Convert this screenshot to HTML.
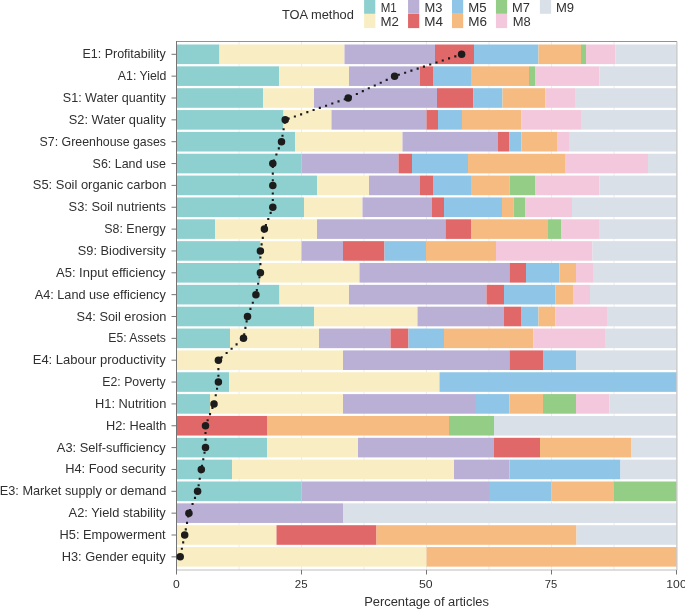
<!DOCTYPE html><html><head><meta charset="utf-8"><title>TOA methods chart</title><style>html,body{margin:0;padding:0;background:#fff;overflow:hidden;}svg{display:block;}text{font-family:"Liberation Sans",sans-serif;fill:#303030;}</style></head><body>
<svg width="685" height="609" viewBox="0 0 685 609">
<line x1="239.00" y1="42" x2="239.00" y2="570" stroke="#ececec" stroke-width="1"/>
<line x1="301.50" y1="42" x2="301.50" y2="570" stroke="#ececec" stroke-width="1"/>
<line x1="364.00" y1="42" x2="364.00" y2="570" stroke="#ececec" stroke-width="1"/>
<line x1="426.50" y1="42" x2="426.50" y2="570" stroke="#ececec" stroke-width="1"/>
<line x1="489.00" y1="42" x2="489.00" y2="570" stroke="#ececec" stroke-width="1"/>
<line x1="551.50" y1="42" x2="551.50" y2="570" stroke="#ececec" stroke-width="1"/>
<line x1="614.00" y1="42" x2="614.00" y2="570" stroke="#ececec" stroke-width="1"/>
<rect x="176.50" y="44.50" width="43.00" height="19.60" fill="#8ed0cf"/>
<rect x="219.50" y="44.50" width="125.00" height="19.60" fill="#f9eec3"/>
<rect x="344.50" y="44.50" width="90.50" height="19.60" fill="#bab0d6"/>
<rect x="435.00" y="44.50" width="39.00" height="19.60" fill="#e06868"/>
<rect x="474.00" y="44.50" width="64.50" height="19.60" fill="#8fc5e6"/>
<rect x="538.50" y="44.50" width="42.50" height="19.60" fill="#f6bb80"/>
<rect x="581.00" y="44.50" width="5.00" height="19.60" fill="#94cd86"/>
<rect x="586.00" y="44.50" width="29.50" height="19.60" fill="#f4c8dc"/>
<rect x="615.50" y="44.50" width="61.00" height="19.60" fill="#d9e0e8"/>
<rect x="176.50" y="66.35" width="102.50" height="19.60" fill="#8ed0cf"/>
<rect x="279.00" y="66.35" width="70.00" height="19.60" fill="#f9eec3"/>
<rect x="349.00" y="66.35" width="71.00" height="19.60" fill="#bab0d6"/>
<rect x="420.00" y="66.35" width="13.00" height="19.60" fill="#e06868"/>
<rect x="433.00" y="66.35" width="38.00" height="19.60" fill="#8fc5e6"/>
<rect x="471.00" y="66.35" width="58.00" height="19.60" fill="#f6bb80"/>
<rect x="529.00" y="66.35" width="6.00" height="19.60" fill="#94cd86"/>
<rect x="535.00" y="66.35" width="64.50" height="19.60" fill="#f4c8dc"/>
<rect x="599.50" y="66.35" width="77.00" height="19.60" fill="#d9e0e8"/>
<rect x="176.50" y="88.20" width="86.50" height="19.60" fill="#8ed0cf"/>
<rect x="263.00" y="88.20" width="51.00" height="19.60" fill="#f9eec3"/>
<rect x="314.00" y="88.20" width="123.00" height="19.60" fill="#bab0d6"/>
<rect x="437.00" y="88.20" width="36.50" height="19.60" fill="#e06868"/>
<rect x="473.50" y="88.20" width="29.00" height="19.60" fill="#8fc5e6"/>
<rect x="502.50" y="88.20" width="43.00" height="19.60" fill="#f6bb80"/>
<rect x="545.50" y="88.20" width="29.50" height="19.60" fill="#f4c8dc"/>
<rect x="575.00" y="88.20" width="101.50" height="19.60" fill="#d9e0e8"/>
<rect x="176.50" y="110.05" width="107.00" height="19.60" fill="#8ed0cf"/>
<rect x="283.50" y="110.05" width="48.00" height="19.60" fill="#f9eec3"/>
<rect x="331.50" y="110.05" width="95.00" height="19.60" fill="#bab0d6"/>
<rect x="426.50" y="110.05" width="11.50" height="19.60" fill="#e06868"/>
<rect x="438.00" y="110.05" width="24.00" height="19.60" fill="#8fc5e6"/>
<rect x="462.00" y="110.05" width="59.50" height="19.60" fill="#f6bb80"/>
<rect x="521.50" y="110.05" width="59.50" height="19.60" fill="#f4c8dc"/>
<rect x="581.00" y="110.05" width="95.50" height="19.60" fill="#d9e0e8"/>
<rect x="176.50" y="131.90" width="118.50" height="19.60" fill="#8ed0cf"/>
<rect x="295.00" y="131.90" width="107.50" height="19.60" fill="#f9eec3"/>
<rect x="402.50" y="131.90" width="95.50" height="19.60" fill="#bab0d6"/>
<rect x="498.00" y="131.90" width="11.50" height="19.60" fill="#e06868"/>
<rect x="509.50" y="131.90" width="12.00" height="19.60" fill="#8fc5e6"/>
<rect x="521.50" y="131.90" width="35.50" height="19.60" fill="#f6bb80"/>
<rect x="557.00" y="131.90" width="12.00" height="19.60" fill="#f4c8dc"/>
<rect x="569.00" y="131.90" width="107.50" height="19.60" fill="#d9e0e8"/>
<rect x="176.50" y="153.75" width="125.00" height="19.60" fill="#8ed0cf"/>
<rect x="301.50" y="153.75" width="97.00" height="19.60" fill="#bab0d6"/>
<rect x="398.50" y="153.75" width="13.50" height="19.60" fill="#e06868"/>
<rect x="412.00" y="153.75" width="56.00" height="19.60" fill="#8fc5e6"/>
<rect x="468.00" y="153.75" width="97.00" height="19.60" fill="#f6bb80"/>
<rect x="565.00" y="153.75" width="83.00" height="19.60" fill="#f4c8dc"/>
<rect x="648.00" y="153.75" width="28.50" height="19.60" fill="#d9e0e8"/>
<rect x="176.50" y="175.60" width="140.50" height="19.60" fill="#8ed0cf"/>
<rect x="317.00" y="175.60" width="52.00" height="19.60" fill="#f9eec3"/>
<rect x="369.00" y="175.60" width="51.00" height="19.60" fill="#bab0d6"/>
<rect x="420.00" y="175.60" width="13.00" height="19.60" fill="#e06868"/>
<rect x="433.00" y="175.60" width="38.00" height="19.60" fill="#8fc5e6"/>
<rect x="471.00" y="175.60" width="38.50" height="19.60" fill="#f6bb80"/>
<rect x="509.50" y="175.60" width="25.50" height="19.60" fill="#94cd86"/>
<rect x="535.00" y="175.60" width="64.50" height="19.60" fill="#f4c8dc"/>
<rect x="599.50" y="175.60" width="77.00" height="19.60" fill="#d9e0e8"/>
<rect x="176.50" y="197.45" width="127.50" height="19.60" fill="#8ed0cf"/>
<rect x="304.00" y="197.45" width="58.50" height="19.60" fill="#f9eec3"/>
<rect x="362.50" y="197.45" width="69.50" height="19.60" fill="#bab0d6"/>
<rect x="432.00" y="197.45" width="12.00" height="19.60" fill="#e06868"/>
<rect x="444.00" y="197.45" width="58.00" height="19.60" fill="#8fc5e6"/>
<rect x="502.00" y="197.45" width="11.50" height="19.60" fill="#f6bb80"/>
<rect x="513.50" y="197.45" width="11.50" height="19.60" fill="#94cd86"/>
<rect x="525.00" y="197.45" width="47.00" height="19.60" fill="#f4c8dc"/>
<rect x="572.00" y="197.45" width="104.50" height="19.60" fill="#d9e0e8"/>
<rect x="176.50" y="219.30" width="38.50" height="19.60" fill="#8ed0cf"/>
<rect x="215.00" y="219.30" width="102.00" height="19.60" fill="#f9eec3"/>
<rect x="317.00" y="219.30" width="128.50" height="19.60" fill="#bab0d6"/>
<rect x="445.50" y="219.30" width="25.50" height="19.60" fill="#e06868"/>
<rect x="471.00" y="219.30" width="77.00" height="19.60" fill="#f6bb80"/>
<rect x="548.00" y="219.30" width="13.00" height="19.60" fill="#94cd86"/>
<rect x="561.00" y="219.30" width="38.00" height="19.60" fill="#f4c8dc"/>
<rect x="599.00" y="219.30" width="77.50" height="19.60" fill="#d9e0e8"/>
<rect x="176.50" y="241.15" width="84.00" height="19.60" fill="#8ed0cf"/>
<rect x="260.50" y="241.15" width="41.00" height="19.60" fill="#f9eec3"/>
<rect x="301.50" y="241.15" width="41.50" height="19.60" fill="#bab0d6"/>
<rect x="343.00" y="241.15" width="41.50" height="19.60" fill="#e06868"/>
<rect x="384.50" y="241.15" width="41.50" height="19.60" fill="#8fc5e6"/>
<rect x="426.00" y="241.15" width="70.00" height="19.60" fill="#f6bb80"/>
<rect x="496.00" y="241.15" width="96.50" height="19.60" fill="#f4c8dc"/>
<rect x="592.50" y="241.15" width="84.00" height="19.60" fill="#d9e0e8"/>
<rect x="176.50" y="263.00" width="83.50" height="19.60" fill="#8ed0cf"/>
<rect x="260.00" y="263.00" width="99.50" height="19.60" fill="#f9eec3"/>
<rect x="359.50" y="263.00" width="150.00" height="19.60" fill="#bab0d6"/>
<rect x="509.50" y="263.00" width="16.50" height="19.60" fill="#e06868"/>
<rect x="526.00" y="263.00" width="33.50" height="19.60" fill="#8fc5e6"/>
<rect x="559.50" y="263.00" width="16.50" height="19.60" fill="#f6bb80"/>
<rect x="576.00" y="263.00" width="17.00" height="19.60" fill="#f4c8dc"/>
<rect x="593.00" y="263.00" width="83.50" height="19.60" fill="#d9e0e8"/>
<rect x="176.50" y="284.85" width="103.00" height="19.60" fill="#8ed0cf"/>
<rect x="279.50" y="284.85" width="69.50" height="19.60" fill="#f9eec3"/>
<rect x="349.00" y="284.85" width="137.50" height="19.60" fill="#bab0d6"/>
<rect x="486.50" y="284.85" width="17.50" height="19.60" fill="#e06868"/>
<rect x="504.00" y="284.85" width="51.50" height="19.60" fill="#8fc5e6"/>
<rect x="555.50" y="284.85" width="17.50" height="19.60" fill="#f6bb80"/>
<rect x="573.00" y="284.85" width="17.00" height="19.60" fill="#f4c8dc"/>
<rect x="590.00" y="284.85" width="86.50" height="19.60" fill="#d9e0e8"/>
<rect x="176.50" y="306.70" width="137.50" height="19.60" fill="#8ed0cf"/>
<rect x="314.00" y="306.70" width="103.50" height="19.60" fill="#f9eec3"/>
<rect x="417.50" y="306.70" width="86.50" height="19.60" fill="#bab0d6"/>
<rect x="504.00" y="306.70" width="17.00" height="19.60" fill="#e06868"/>
<rect x="521.00" y="306.70" width="17.50" height="19.60" fill="#8fc5e6"/>
<rect x="538.50" y="306.70" width="17.00" height="19.60" fill="#f6bb80"/>
<rect x="555.50" y="306.70" width="51.50" height="19.60" fill="#f4c8dc"/>
<rect x="607.00" y="306.70" width="69.50" height="19.60" fill="#d9e0e8"/>
<rect x="176.50" y="328.55" width="53.50" height="19.60" fill="#8ed0cf"/>
<rect x="230.00" y="328.55" width="89.00" height="19.60" fill="#f9eec3"/>
<rect x="319.00" y="328.55" width="71.50" height="19.60" fill="#bab0d6"/>
<rect x="390.50" y="328.55" width="18.00" height="19.60" fill="#e06868"/>
<rect x="408.50" y="328.55" width="35.50" height="19.60" fill="#8fc5e6"/>
<rect x="444.00" y="328.55" width="89.50" height="19.60" fill="#f6bb80"/>
<rect x="533.50" y="328.55" width="71.50" height="19.60" fill="#f4c8dc"/>
<rect x="605.00" y="328.55" width="71.50" height="19.60" fill="#d9e0e8"/>
<rect x="176.50" y="350.40" width="166.50" height="19.60" fill="#f9eec3"/>
<rect x="343.00" y="350.40" width="166.50" height="19.60" fill="#bab0d6"/>
<rect x="509.50" y="350.40" width="33.50" height="19.60" fill="#e06868"/>
<rect x="543.00" y="350.40" width="33.00" height="19.60" fill="#8fc5e6"/>
<rect x="576.00" y="350.40" width="100.50" height="19.60" fill="#d9e0e8"/>
<rect x="176.50" y="372.25" width="52.50" height="19.60" fill="#8ed0cf"/>
<rect x="229.00" y="372.25" width="210.50" height="19.60" fill="#f9eec3"/>
<rect x="439.50" y="372.25" width="237.00" height="19.60" fill="#8fc5e6"/>
<rect x="176.50" y="394.10" width="33.50" height="19.60" fill="#8ed0cf"/>
<rect x="210.00" y="394.10" width="133.00" height="19.60" fill="#f9eec3"/>
<rect x="343.00" y="394.10" width="133.00" height="19.60" fill="#bab0d6"/>
<rect x="476.00" y="394.10" width="33.50" height="19.60" fill="#8fc5e6"/>
<rect x="509.50" y="394.10" width="33.50" height="19.60" fill="#f6bb80"/>
<rect x="543.00" y="394.10" width="33.00" height="19.60" fill="#94cd86"/>
<rect x="576.00" y="394.10" width="33.50" height="19.60" fill="#f4c8dc"/>
<rect x="609.50" y="394.10" width="67.00" height="19.60" fill="#d9e0e8"/>
<rect x="176.50" y="415.95" width="90.50" height="19.60" fill="#e06868"/>
<rect x="267.00" y="415.95" width="182.00" height="19.60" fill="#f6bb80"/>
<rect x="449.00" y="415.95" width="45.00" height="19.60" fill="#94cd86"/>
<rect x="494.00" y="415.95" width="182.50" height="19.60" fill="#d9e0e8"/>
<rect x="176.50" y="437.80" width="90.50" height="19.60" fill="#8ed0cf"/>
<rect x="267.00" y="437.80" width="91.00" height="19.60" fill="#f9eec3"/>
<rect x="358.00" y="437.80" width="136.00" height="19.60" fill="#bab0d6"/>
<rect x="494.00" y="437.80" width="46.00" height="19.60" fill="#e06868"/>
<rect x="540.00" y="437.80" width="91.00" height="19.60" fill="#f6bb80"/>
<rect x="631.00" y="437.80" width="45.50" height="19.60" fill="#d9e0e8"/>
<rect x="176.50" y="459.65" width="55.50" height="19.60" fill="#8ed0cf"/>
<rect x="232.00" y="459.65" width="222.00" height="19.60" fill="#f9eec3"/>
<rect x="454.00" y="459.65" width="55.50" height="19.60" fill="#bab0d6"/>
<rect x="509.50" y="459.65" width="111.00" height="19.60" fill="#8fc5e6"/>
<rect x="620.50" y="459.65" width="56.00" height="19.60" fill="#d9e0e8"/>
<rect x="176.50" y="481.50" width="125.00" height="19.60" fill="#8ed0cf"/>
<rect x="301.50" y="481.50" width="187.50" height="19.60" fill="#bab0d6"/>
<rect x="489.00" y="481.50" width="62.50" height="19.60" fill="#8fc5e6"/>
<rect x="551.50" y="481.50" width="62.50" height="19.60" fill="#f6bb80"/>
<rect x="614.00" y="481.50" width="62.50" height="19.60" fill="#94cd86"/>
<rect x="176.50" y="503.35" width="166.50" height="19.60" fill="#bab0d6"/>
<rect x="343.00" y="503.35" width="333.50" height="19.60" fill="#d9e0e8"/>
<rect x="176.50" y="525.20" width="100.00" height="19.60" fill="#f9eec3"/>
<rect x="276.50" y="525.20" width="100.00" height="19.60" fill="#e06868"/>
<rect x="376.50" y="525.20" width="200.00" height="19.60" fill="#f6bb80"/>
<rect x="576.50" y="525.20" width="100.00" height="19.60" fill="#d9e0e8"/>
<rect x="176.50" y="547.05" width="250.00" height="19.60" fill="#f9eec3"/>
<rect x="426.50" y="547.05" width="250.00" height="19.60" fill="#f6bb80"/>
<line x1="176.5" y1="41.5" x2="677" y2="41.5" stroke="#939393" stroke-width="1"/>
<line x1="676.9" y1="41.5" x2="676.9" y2="570" stroke="#bcbcbc" stroke-width="1.1"/>
<line x1="176.5" y1="570" x2="676.5" y2="570" stroke="#bdbdbd" stroke-width="1"/>
<line x1="176.5" y1="41" x2="176.5" y2="574.5" stroke="#747474" stroke-width="1"/>
<line x1="301.50" y1="570" x2="301.50" y2="574.5" stroke="#747474" stroke-width="1"/>
<line x1="426.50" y1="570" x2="426.50" y2="574.5" stroke="#747474" stroke-width="1"/>
<line x1="551.50" y1="570" x2="551.50" y2="574.5" stroke="#747474" stroke-width="1"/>
<line x1="676.50" y1="570" x2="676.50" y2="574.5" stroke="#747474" stroke-width="1"/>
<line x1="171.5" y1="54.30" x2="176.5" y2="54.30" stroke="#747474" stroke-width="1"/>
<line x1="171.5" y1="76.15" x2="176.5" y2="76.15" stroke="#747474" stroke-width="1"/>
<line x1="171.5" y1="98.00" x2="176.5" y2="98.00" stroke="#747474" stroke-width="1"/>
<line x1="171.5" y1="119.85" x2="176.5" y2="119.85" stroke="#747474" stroke-width="1"/>
<line x1="171.5" y1="141.70" x2="176.5" y2="141.70" stroke="#747474" stroke-width="1"/>
<line x1="171.5" y1="163.55" x2="176.5" y2="163.55" stroke="#747474" stroke-width="1"/>
<line x1="171.5" y1="185.40" x2="176.5" y2="185.40" stroke="#747474" stroke-width="1"/>
<line x1="171.5" y1="207.25" x2="176.5" y2="207.25" stroke="#747474" stroke-width="1"/>
<line x1="171.5" y1="229.10" x2="176.5" y2="229.10" stroke="#747474" stroke-width="1"/>
<line x1="171.5" y1="250.95" x2="176.5" y2="250.95" stroke="#747474" stroke-width="1"/>
<line x1="171.5" y1="272.80" x2="176.5" y2="272.80" stroke="#747474" stroke-width="1"/>
<line x1="171.5" y1="294.65" x2="176.5" y2="294.65" stroke="#747474" stroke-width="1"/>
<line x1="171.5" y1="316.50" x2="176.5" y2="316.50" stroke="#747474" stroke-width="1"/>
<line x1="171.5" y1="338.35" x2="176.5" y2="338.35" stroke="#747474" stroke-width="1"/>
<line x1="171.5" y1="360.20" x2="176.5" y2="360.20" stroke="#747474" stroke-width="1"/>
<line x1="171.5" y1="382.05" x2="176.5" y2="382.05" stroke="#747474" stroke-width="1"/>
<line x1="171.5" y1="403.90" x2="176.5" y2="403.90" stroke="#747474" stroke-width="1"/>
<line x1="171.5" y1="425.75" x2="176.5" y2="425.75" stroke="#747474" stroke-width="1"/>
<line x1="171.5" y1="447.60" x2="176.5" y2="447.60" stroke="#747474" stroke-width="1"/>
<line x1="171.5" y1="469.45" x2="176.5" y2="469.45" stroke="#747474" stroke-width="1"/>
<line x1="171.5" y1="491.30" x2="176.5" y2="491.30" stroke="#747474" stroke-width="1"/>
<line x1="171.5" y1="513.15" x2="176.5" y2="513.15" stroke="#747474" stroke-width="1"/>
<line x1="171.5" y1="535.00" x2="176.5" y2="535.00" stroke="#747474" stroke-width="1"/>
<line x1="171.5" y1="556.85" x2="176.5" y2="556.85" stroke="#747474" stroke-width="1"/>
<path d="M461.60 54.30 L394.60 76.15 L348.20 98.00 L285.20 119.85 L281.50 141.70 L272.80 163.55 L272.80 185.40 L272.80 207.25 L264.40 229.10 L260.40 250.95 L260.40 272.80 L255.90 294.65 L247.50 316.50 L243.50 338.35 L218.40 360.20 L218.40 382.05 L214.00 403.90 L205.50 425.75 L205.50 447.60 L201.30 469.45 L197.60 491.30 L188.90 513.15 L184.70 535.00 L180.20 556.85" fill="none" stroke="#1a1a1a" stroke-width="2.1" stroke-linecap="square" stroke-dasharray="0 6.6"/>
<circle cx="461.60" cy="54.30" r="3.75" fill="#1c1c1c"/>
<circle cx="394.60" cy="76.15" r="3.75" fill="#1c1c1c"/>
<circle cx="348.20" cy="98.00" r="3.75" fill="#1c1c1c"/>
<circle cx="285.20" cy="119.85" r="3.75" fill="#1c1c1c"/>
<circle cx="281.50" cy="141.70" r="3.75" fill="#1c1c1c"/>
<circle cx="272.80" cy="163.55" r="3.75" fill="#1c1c1c"/>
<circle cx="272.80" cy="185.40" r="3.75" fill="#1c1c1c"/>
<circle cx="272.80" cy="207.25" r="3.75" fill="#1c1c1c"/>
<circle cx="264.40" cy="229.10" r="3.75" fill="#1c1c1c"/>
<circle cx="260.40" cy="250.95" r="3.75" fill="#1c1c1c"/>
<circle cx="260.40" cy="272.80" r="3.75" fill="#1c1c1c"/>
<circle cx="255.90" cy="294.65" r="3.75" fill="#1c1c1c"/>
<circle cx="247.50" cy="316.50" r="3.75" fill="#1c1c1c"/>
<circle cx="243.50" cy="338.35" r="3.75" fill="#1c1c1c"/>
<circle cx="218.40" cy="360.20" r="3.75" fill="#1c1c1c"/>
<circle cx="218.40" cy="382.05" r="3.75" fill="#1c1c1c"/>
<circle cx="214.00" cy="403.90" r="3.75" fill="#1c1c1c"/>
<circle cx="205.50" cy="425.75" r="3.75" fill="#1c1c1c"/>
<circle cx="205.50" cy="447.60" r="3.75" fill="#1c1c1c"/>
<circle cx="201.30" cy="469.45" r="3.75" fill="#1c1c1c"/>
<circle cx="197.60" cy="491.30" r="3.75" fill="#1c1c1c"/>
<circle cx="188.90" cy="513.15" r="3.75" fill="#1c1c1c"/>
<circle cx="184.70" cy="535.00" r="3.75" fill="#1c1c1c"/>
<circle cx="180.20" cy="556.85" r="3.75" fill="#1c1c1c"/>
<rect x="364.10" y="-0.50" width="11.20" height="14.30" fill="#8ed0cf"/>
<rect x="364.10" y="14.00" width="11.20" height="14.10" fill="#f9eec3"/>
<rect x="408.05" y="-0.50" width="11.20" height="14.30" fill="#bab0d6"/>
<rect x="408.05" y="14.00" width="11.20" height="14.10" fill="#e06868"/>
<rect x="452.00" y="-0.50" width="11.20" height="14.30" fill="#8fc5e6"/>
<rect x="452.00" y="14.00" width="11.20" height="14.10" fill="#f6bb80"/>
<rect x="495.95" y="-0.50" width="11.20" height="14.30" fill="#94cd86"/>
<rect x="495.95" y="14.00" width="11.20" height="14.10" fill="#f4c8dc"/>
<rect x="539.90" y="-0.50" width="11.20" height="14.30" fill="#d9e0e8"/>
<g style="filter:grayscale(1)">
<text transform="translate(165.68 58.30) scale(0.9991 1)" font-size="12.50" text-anchor="end">E1: Profitability</text>
<text transform="translate(166.46 80.15) scale(0.9860 1)" font-size="12.50" text-anchor="end">A1: Yield</text>
<text transform="translate(165.71 102.00) scale(1.0066 1)" font-size="12.50" text-anchor="end">S1: Water quantity</text>
<text transform="translate(165.78 123.85) scale(1.0254 1)" font-size="12.50" text-anchor="end">S2: Water quality</text>
<text transform="translate(165.98 145.70) scale(0.9897 1)" font-size="12.50" text-anchor="end">S7: Greenhouse gases</text>
<text transform="translate(166.03 167.55) scale(0.9978 1)" font-size="12.50" text-anchor="end">S6: Land use</text>
<text transform="translate(166.36 189.40) scale(1.0346 1)" font-size="12.50" text-anchor="end">S5: Soil organic carbon</text>
<text transform="translate(166.02 211.25) scale(1.0329 1)" font-size="12.50" text-anchor="end">S3: Soil nutrients</text>
<text transform="translate(165.70 233.10) scale(0.9940 1)" font-size="12.50" text-anchor="end">S8: Energy</text>
<text transform="translate(165.81 254.95) scale(1.0225 1)" font-size="12.50" text-anchor="end">S9: Biodiversity</text>
<text transform="translate(165.62 276.80) scale(1.0410 1)" font-size="12.50" text-anchor="end">A5: Input efficiency</text>
<text transform="translate(165.75 298.65) scale(1.0162 1)" font-size="12.50" text-anchor="end">A4: Land use efficiency</text>
<text transform="translate(166.40 320.50) scale(1.0260 1)" font-size="12.50" text-anchor="end">S4: Soil erosion</text>
<text transform="translate(165.95 342.35) scale(0.9773 1)" font-size="12.50" text-anchor="end">E5: Assets</text>
<text transform="translate(165.75 364.20) scale(1.0414 1)" font-size="12.50" text-anchor="end">E4: Labour productivity</text>
<text transform="translate(165.76 386.05) scale(0.9836 1)" font-size="12.50" text-anchor="end">E2: Poverty</text>
<text transform="translate(166.32 407.90) scale(1.0271 1)" font-size="12.50" text-anchor="end">H1: Nutrition</text>
<text transform="translate(166.34 429.75) scale(1.0210 1)" font-size="12.50" text-anchor="end">H2: Health</text>
<text transform="translate(165.72 451.60) scale(1.0275 1)" font-size="12.50" text-anchor="end">A3: Self-sufficiency</text>
<text transform="translate(165.73 473.45) scale(1.0270 1)" font-size="12.50" text-anchor="end">H4: Food security</text>
<text transform="translate(166.32 495.30) scale(1.0208 1)" font-size="12.50" text-anchor="end">E3: Market supply or demand</text>
<text transform="translate(165.77 517.15) scale(1.0301 1)" font-size="12.50" text-anchor="end">A2: Yield stability</text>
<text transform="translate(165.69 539.00) scale(1.0257 1)" font-size="12.50" text-anchor="end">H5: Empowerment</text>
<text transform="translate(165.74 560.85) scale(1.0274 1)" font-size="12.50" text-anchor="end">H3: Gender equity</text>
<text transform="translate(176.29 588.00) scale(1.0500 1)" font-size="11.60" text-anchor="middle">0</text>
<text transform="translate(301.12 588.00) scale(0.9900 1)" font-size="11.60" text-anchor="middle">25</text>
<text transform="translate(425.86 588.00) scale(1.0600 1)" font-size="11.60" text-anchor="middle">50</text>
<text transform="translate(551.03 588.00) scale(0.9700 1)" font-size="11.60" text-anchor="middle">75</text>
<text transform="translate(676.50 588.00) scale(1.0500 1)" font-size="11.60" text-anchor="middle">100</text>
<text transform="translate(426.55 605.50) scale(1.0584 1)" font-size="12.20" text-anchor="middle">Percentage of articles</text>
<text transform="translate(281.88 18.60) scale(1.0053 1)" font-size="12.80" text-anchor="start">TOA method</text>
<text transform="translate(380.69 11.60) scale(0.9462 1)" font-size="12.20" text-anchor="start">M1</text>
<text transform="translate(380.59 25.70) scale(1.0866 1)" font-size="12.20" text-anchor="start">M2</text>
<text transform="translate(424.41 11.60) scale(1.0597 1)" font-size="12.20" text-anchor="start">M3</text>
<text transform="translate(424.34 25.70) scale(1.1035 1)" font-size="12.20" text-anchor="start">M4</text>
<text transform="translate(468.25 11.60) scale(1.0803 1)" font-size="12.20" text-anchor="start">M5</text>
<text transform="translate(468.20 25.70) scale(1.1073 1)" font-size="12.20" text-anchor="start">M6</text>
<text transform="translate(512.12 11.60) scale(1.0508 1)" font-size="12.20" text-anchor="start">M7</text>
<text transform="translate(512.63 25.70) scale(1.0628 1)" font-size="12.20" text-anchor="start">M8</text>
<text transform="translate(555.98 11.60) scale(1.0706 1)" font-size="12.20" text-anchor="start">M9</text>
</g>
</svg></body></html>
